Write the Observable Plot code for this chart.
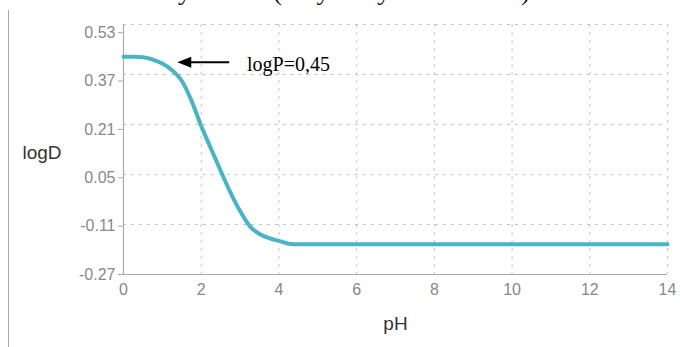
<!DOCTYPE html>
<html><head><meta charset="utf-8">
<script src="https://cdn.jsdelivr.net/npm/d3@7"></script>
<script src="https://cdn.jsdelivr.net/npm/@observablehq/plot@0.6"></script>
<style>
body{margin:0;background:#fff;}
#wrap{position:relative;width:680px;height:347px;overflow:hidden;}
#title{position:absolute;left:126px;top:-21px;font-size:26px;font-family:"Liberation Serif",serif;line-height:26px;white-space:nowrap;color:#111;}
#border{position:absolute;left:8px;top:10px;bottom:0;border-left:1.5px solid #aaa;}
#chart{position:absolute;left:0;top:0;}
</style></head><body>
<div id="wrap"><div id="title">Salicylic acid (2-hydroxybenzoic acid)</div><div id="border"></div><div id="chart"></div></div>
<script>
const pH   = [0, 0.25, 0.5, 0.75, 1.0, 1.25, 1.5, 1.75, 2.0, 2.25, 2.5, 2.75, 3.0, 3.25, 3.5, 3.75, 4.0, 4.25, 4.5, 5, 6, 7, 8, 9, 10, 11, 12, 13, 14];
const logD = [0.45, 0.45, 0.449, 0.441, 0.428, 0.406, 0.371, 0.305, 0.221, 0.147, 0.073, 0.002, -0.06, -0.11, -0.136, -0.15, -0.159, -0.168, -0.17, -0.17, -0.17, -0.17, -0.17, -0.17, -0.17, -0.17, -0.17, -0.17, -0.17];
const xTicks = [0, 2, 4, 6, 8, 10, 12, 14];
const yTicks = [-0.27, -0.11, 0.05, 0.21, 0.37, 0.53];
const yDomain = [-0.27, 0.557];
const xLabel = "pH";
const yLabel = "logD";
const noteText = ["logP=0,45"];
const noteTip = [{pH: 1.384, logD: 0.432}];
const noteTail = [{pH: 2.72, logD: 0.432}];
const noteAt = [{pH: 3.18, logD: 0.432}];

const data = pH.map((p, i) => ({pH: p, logD: logD[i]}));
// the chart's horizontal grid divides the frame into five equal bands (not aligned to the tick labels)
const yGrid = d3.range(6).map(i => yDomain[1] - i * (yDomain[1] - yDomain[0]) / 5);
const arrowHead = {draw(ctx) { ctx.moveTo(0, 0); ctx.lineTo(14, -5.5); ctx.lineTo(14, 5.5); ctx.closePath(); }};

const chart = Plot.plot({
  width: 680, height: 347,
  marginTop: 24, marginBottom: 73, marginLeft: 123, marginRight: 13,
  style: {fontFamily: "'Liberation Sans', Arial, sans-serif", fontSize: "16px", color: "#888", background: "transparent"},
  x: {domain: [0, 14], ticks: xTicks, label: null},
  y: {domain: yDomain, ticks: yTicks, label: null},
  marks: [
    Plot.gridX(xTicks, {stroke: "#c4c4c4", strokeOpacity: 1, strokeDasharray: "3,5"}),
    Plot.gridY(yGrid, {stroke: "#c4c4c4", strokeOpacity: 1, strokeDasharray: "3,5"}),
    Plot.axisX(xTicks, {tickSize: 0, tickPadding: 9, label: null, fill: "#888", tickFormat: d => String(d)}),
    Plot.axisY(yTicks, {tickSize: 5, tickPadding: 3, label: null, fill: "#888", stroke: "#aaa", tickFormat: d => d.toFixed(2)}),
    Plot.ruleX([0], {stroke: "#aaa", strokeWidth: 1.2}),
    Plot.ruleY([yDomain[0]], {stroke: "#aaa", strokeWidth: 1.2}),
    Plot.line(data, {x: "pH", y: "logD", stroke: "#49b4c5", strokeWidth: 4, curve: "monotone-x"}),
    Plot.link([0], {x1: () => noteTip[0].pH + 0.2, y1: () => noteTip[0].logD, x2: () => noteTail[0].pH, y2: () => noteTail[0].logD, stroke: "#000", strokeWidth: 2}),
    Plot.dot(noteTip, {x: "pH", y: "logD", symbol: arrowHead, fill: "#000", stroke: "none"}),
    Plot.text(noteText, {x: () => noteAt[0].pH, y: () => noteAt[0].logD, textAnchor: "start", dy: 2, fontFamily: "'Liberation Serif', serif", fontSize: 20, fill: "#000"}),
    Plot.text([yLabel], {frameAnchor: "left", dx: -101, dy: 3, textAnchor: "start", fontSize: 19, fill: "#333"}),
    Plot.text([xLabel], {frameAnchor: "bottom", dy: 55, fontSize: 19, fill: "#333"})
  ]
});
document.getElementById("chart").appendChild(chart);
</script>
</body></html>
